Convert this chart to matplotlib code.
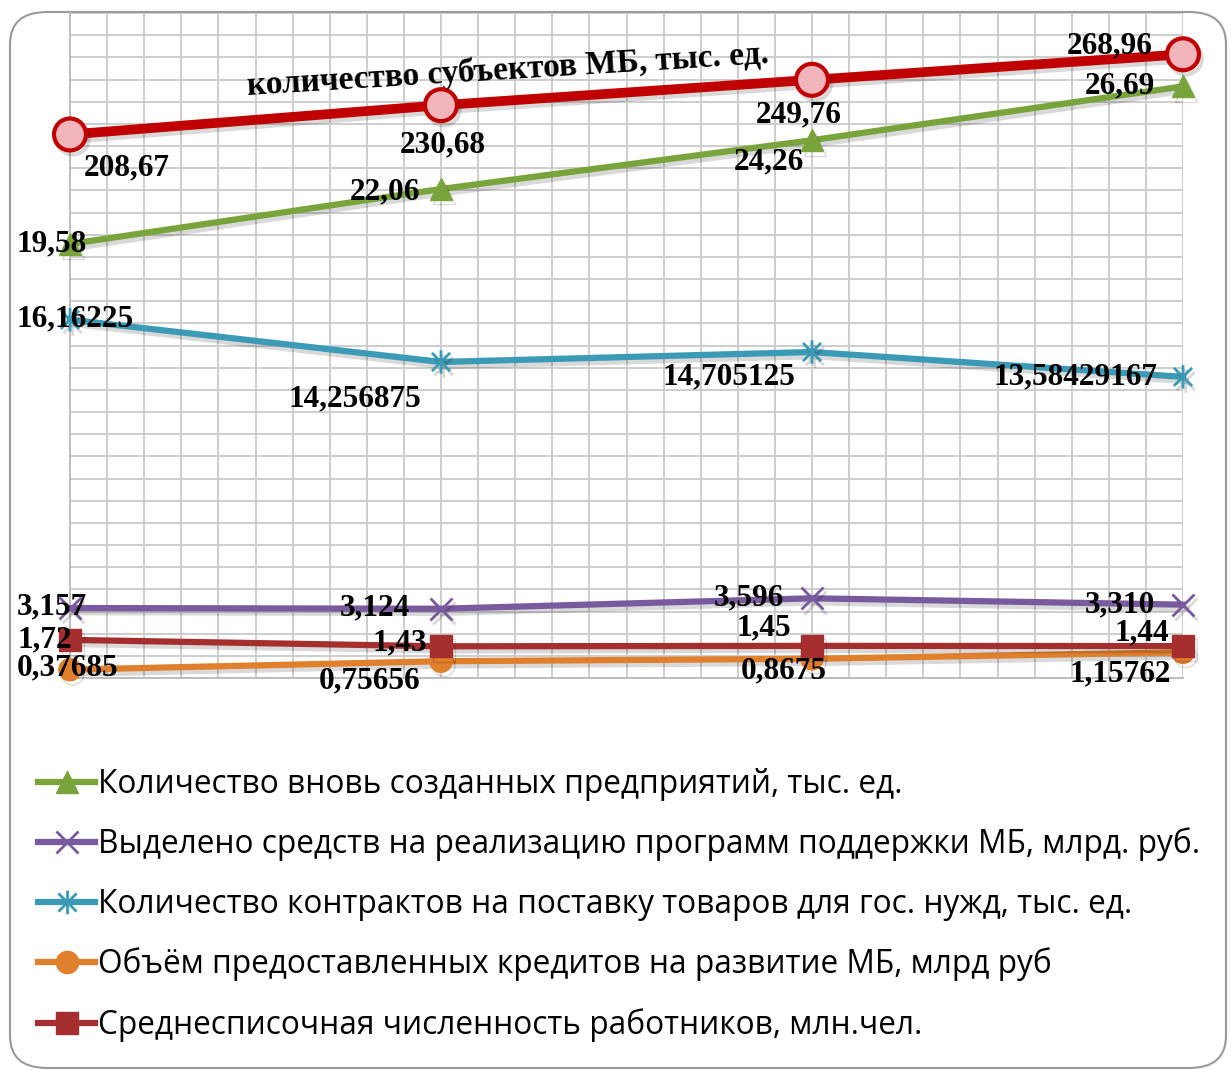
import matplotlib
matplotlib.use("Agg")
import matplotlib.pyplot as plt
import matplotlib.patheffects as pe
from matplotlib.patches import FancyBboxPatch
from matplotlib.path import Path
import numpy as np

# data (4 periods, no axis labels on the original)
periods = [0, 1, 2, 3]
subjects = [208.67, 230.68, 249.76, 268.96]          # secondary axis
new_firms = [19.58, 22.06, 24.26, 26.69]
support_funds = [3.157, 3.124, 3.596, 3.310]
contracts = [16.16225, 14.256875, 14.705125, 13.58429167]
credits = [0.37685, 0.75656, 0.8675, 1.15762]
workers = [1.72, 1.43, 1.45, 1.44]

legend_labels = [
    "Количество вновь созданных предприятий, тыс. ед.",
    "Выделено средств на реализацию программ поддержки МБ, млрд. руб.",
    "Количество контрактов на поставку товаров для гос. нужд, тыс. ед.",
    "Объём предоставленных кредитов на развитие МБ, млрд руб",
    "Среднесписочная численность работников, млн.чел.",
]
subjects_label = "количество субъектов МБ, тыс. ед."

# label offsets in pixels (dx, dy), one per point
off_subjects = [(57, -33), (2, -40), (-13, -35), (-73, 8)]
off_new = [(-18, 0), (-56, -3), (-43, -22), (-63, 0)]
off_contracts = [(5, 1), (-86, -37), (-83, -25), (-108, 0)]
off_funds = [(-18, 1), (-66, 1), (-63, 0), (-63, 0)]
off_workers = [(-25, 0), (-41, 3), (-48, 18), (-41, 13)]
off_credits = [(-2, 2), (-71, -20), (-28, -12), (-63, -22)]

def fmt(v, nd=None):
    s = f"{v:.{nd}f}" if nd is not None else f"{v}"
    return s.replace(".", ",")

shadow = [pe.SimpleLineShadow(offset=(2, -3), alpha=0.15, shadow_color="k"), pe.Normal()]
lab_font = dict(family="Liberation Serif", weight="bold", size=22.5, color="black")

# asterisk marker like the Excel "star"
star = Path([(-1, -1), (1, 1), (-1, 1), (1, -1), (0, -1.3), (0, 1.3)],
            [Path.MOVETO, Path.LINETO, Path.MOVETO, Path.LINETO, Path.MOVETO, Path.LINETO])

fig = plt.figure(figsize=(12.32, 10.70), dpi=100)
fig.patch.set_facecolor("white")
fig.patches.append(FancyBboxPatch((10 / 1232, 2 / 1070), 1216 / 1232, 1056 / 1070,
                                  boxstyle="round,pad=0,rounding_size=0.03",
                                  transform=fig.transFigure, fc="none", ec="#9a9a9a",
                                  lw=1.5, zorder=-1))

ax = fig.add_axes([70 / 1232, 1 - 678 / 1070, 1113 / 1232, 665 / 1070])
ax.set_facecolor("none")
ax.set_xlim(0, 3)
ax.set_ylim(0, 30)
ax.set_xticks(np.arange(0, 3.01, 0.1))
ax.set_yticks(np.arange(0, 31, 1))
ax.grid(True, color="#cdcdcd", lw=1.4)
for s in ["top", "right"]:
    ax.spines[s].set_visible(False)
for s in ["left", "bottom"]:
    ax.spines[s].set_color("#bdbdbd")
    ax.spines[s].set_linewidth(1.4)

l_new, = ax.plot(periods, new_firms, color="#79a33b", lw=4.5, marker="^", ms=16,
                 clip_on=False, path_effects=shadow, zorder=4)
l_funds, = ax.plot(periods, support_funds, color="#7a5a9e", lw=4.5, marker="x", ms=16,
                   mew=2, clip_on=False, path_effects=shadow, zorder=4)
l_contr, = ax.plot(periods, contracts, color="#3b9bb6", lw=4.5, marker=star, ms=17,
                   mfc="none", mew=2, clip_on=False, path_effects=shadow, zorder=4)
l_cred, = ax.plot(periods, credits, color="#e07f2c", lw=4.5, marker="o", ms=16,
                  clip_on=False, path_effects=shadow, zorder=4)
l_work, = ax.plot(periods, workers, color="#a52f2f", lw=4.5, marker="s", ms=16,
                  clip_on=False, path_effects=shadow, zorder=5)

series = [
    (new_firms, off_new, None),
    (support_funds, off_funds, 3),
    (contracts, off_contracts, None),
    (credits, off_credits, None),
    (workers, off_workers, None),
]
for vals, offs, nd in series:
    for x, v, (dx, dy) in zip(periods, vals, offs):
        ax.annotate(fmt(v, nd), (x, v), xytext=(dx, dy), textcoords="offset pixels",
                    ha="center", va="center", zorder=6, annotation_clip=False, **lab_font)

ax2 = ax.twinx()
ax2.set_ylim(-200, 300)
ax2.axis("off")
ax2.plot(periods, subjects, color="#c00000", lw=7, marker="o", ms=23, mfc="#f2b5bb",
         mec="#c00000", mew=3, clip_on=False, path_effects=shadow, zorder=4)
for x, v, (dx, dy) in zip(periods, subjects, off_subjects):
    ax2.annotate(fmt(v), (x, v), xytext=(dx, dy), textcoords="offset pixels",
                 ha="center", va="center", zorder=6, annotation_clip=False, **lab_font)
ax2.text(1.18, 257, subjects_label, rotation=3.5, ha="center", va="center",
         **dict(lab_font, size=24))

ax.tick_params(which="both", length=0, labelleft=False, labelbottom=False,
               labelright=False, labeltop=False)

leg = fig.legend([l_new, l_funds, l_contr, l_cred, l_work], legend_labels,
                 loc="upper left", bbox_to_anchor=(38 / 1232, 1 - 768 / 1070),
                 frameon=False, prop=dict(family="Open Sans", size=22.8),
                 handlelength=1.8, handletextpad=0.1, labelspacing=0.84,
                 borderpad=0, borderaxespad=0)
for h in leg.get_lines():
    h.set_path_effects([])
for h in leg.legend_handles:
    h.set_path_effects([])

fig.savefig("out.png", dpi=100)
